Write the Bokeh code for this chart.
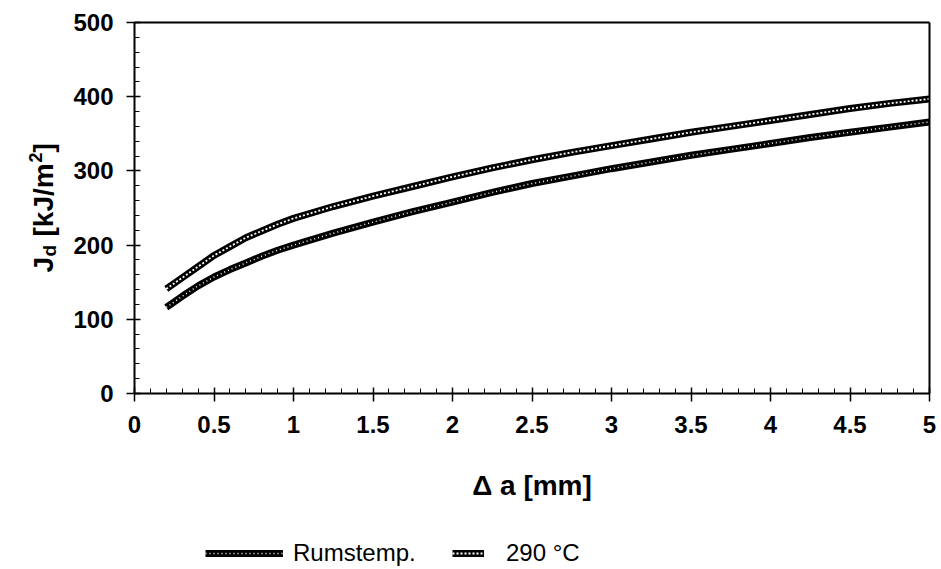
from bokeh.plotting import figure
from bokeh.models import (Legend, LegendItem, Label, Range1d, FixedTicker,
                          CustomJSTickFormatter, LinearAxis)
from bokeh.embed import file_html
from bokeh.resources import INLINE
import math

# Data
da = [0.2, 0.3, 0.4, 0.5, 0.6, 0.7, 0.8, 0.9, 1.0, 1.25, 1.5, 1.75, 2.0, 2.25, 2.5,
      2.75, 3.0, 3.25, 3.5, 3.75, 4.0, 4.25, 4.5, 4.75, 5.0]
j_rum = [116, 131, 145, 157, 167, 176, 185, 193, 200, 216, 231, 245, 258, 271, 283,
         293, 303, 312, 321, 329, 337, 345, 352, 359, 366]
j_290 = [141, 156, 171, 186, 198, 210, 219, 228, 236, 252, 266, 279, 292, 304, 315,
         325, 334, 343, 352, 360, 368, 376, 384, 391, 397]
x_ticks = [0, 0.5, 1, 1.5, 2, 2.5, 3, 3.5, 4, 4.5, 5]
y_ticks = [0, 100, 200, 300, 400, 500]
labels = ["Rumstemp.", "290 °C"]
X_MIN, X_MAX = 0, 5
Y_MIN, Y_MAX = 0, 500

FONT = "Liberation Sans"

# layout (pixels): plot box from x=134..929, y=22..393 in a 941x569 canvas
W, H = 941, 569
BOX_L, BOX_R, BOX_T, BOX_B = 134, 929, 22, 393
xs = (X_MAX - X_MIN) / (BOX_R - BOX_L)
ys = (Y_MAX - Y_MIN) / (BOX_B - BOX_T)
x_range = Range1d(X_MIN - BOX_L * xs, X_MAX + (W - BOX_R) * xs)
y_range = Range1d(Y_MIN - (H - BOX_B) * ys, Y_MAX + BOX_T * ys)

p = figure(width=W, height=H, output_backend="svg", toolbar_location=None,
           x_range=x_range, y_range=y_range,
           min_border=0, x_axis_location=None, y_axis_location=None)
p.background_fill_color = "white"
p.border_fill_color = "white"
p.outline_line_color = None
p.grid.visible = False

xaxis = LinearAxis(fixed_location=Y_MIN, bounds=(X_MIN, X_MAX))
yaxis = LinearAxis(fixed_location=X_MIN, bounds=(Y_MIN, Y_MAX))
p.add_layout(xaxis, "below")
p.add_layout(yaxis, "left")

for ax in (xaxis, yaxis):
    ax.axis_line_width = 2
    ax.axis_line_color = "black"
    ax.major_tick_line_width = 1.5
    ax.minor_tick_line_width = 1
    ax.major_tick_line_color = "black"
    ax.minor_tick_line_color = "black"
    ax.major_tick_out = 8
    ax.major_tick_in = 6
    ax.minor_tick_out = 0
    ax.minor_tick_in = 5
    ax.major_label_text_font = FONT
    ax.major_label_text_font_style = "bold"
    ax.major_label_text_font_size = "24px"
    ax.major_label_text_color = "black"

xaxis.ticker = FixedTicker(ticks=x_ticks, minor_ticks=[i / 10 for i in range(51)])
yaxis.ticker = FixedTicker(ticks=y_ticks, minor_ticks=list(range(0, 501, 20)))
xaxis.major_label_standoff = 14
yaxis.major_label_standoff = 13
xaxis.formatter = CustomJSTickFormatter(code="return tick.toString();")

xaxis.axis_label = "Δ a [mm]"
xaxis.axis_label_text_font = FONT
xaxis.axis_label_text_font_style = "bold"
xaxis.axis_label_text_font_size = "28px"
xaxis.axis_label_text_color = "black"
xaxis.axis_label_standoff = 34

# top and right border lines of the plot box
for loc, side, bnds in ((Y_MAX, "above", (X_MIN, X_MAX)), (X_MAX, "right", (Y_MIN, Y_MAX))):
    b = LinearAxis(fixed_location=loc, bounds=bnds, ticker=FixedTicker(ticks=[]))
    b.axis_line_width = 2
    b.axis_line_color = "black"
    b.major_tick_in = 0
    b.major_tick_out = 0
    b.minor_tick_in = 0
    b.minor_tick_out = 0
    p.add_layout(b, side)

# y axis label with subscript / superscript (screen units from bottom-left)
def ylab(x, y, t, size):
    p.add_layout(Label(x=x, y=y, x_units="screen", y_units="screen", text=t,
                       angle=math.pi / 2, text_font=FONT,
                       text_font_style="bold", text_font_size=size, text_color="black",
                       text_align="left", text_baseline="middle"))

yb = H - 272
ylab(43, yb, "J", "28px")
ylab(49, yb + 16, "d", "19px")
ylab(43, yb + 36, "[kJ/m", "28px")
ylab(35, yb + 110, "2", "18px")
ylab(43, yb + 120, "]", "28px")

# series: thick black line with white dotted core
r1a = p.line(da, j_rum, line_color="black", line_width=7)
r1b = p.line(da, j_rum, line_color="white", line_width=1.5, line_dash="1 3")
r2a = p.line(da, j_290, line_color="black", line_width=7)
r2b = p.line(da, j_290, line_color="white", line_width=1.8, line_dash="2 2")

def make_legend(label, renderers, x, glyph_w, standoff):
    lg = Legend(items=[LegendItem(label=label, renderers=renderers)],
                orientation="horizontal", location=(x, 2))
    lg.label_text_font = FONT
    lg.label_text_font_size = "24px"
    lg.label_text_color = "black"
    lg.border_line_color = None
    lg.background_fill_alpha = 0
    lg.glyph_width = glyph_w
    lg.glyph_height = 10
    lg.label_standoff = standoff
    lg.margin = 0
    lg.padding = 0
    p.add_layout(lg, "center")

make_legend(labels[0], [r1a, r1b], 205, 78, 10)
make_legend(labels[1], [r2a, r2b], 452, 32, 22)

open("out.html", "w").write(file_html(p, INLINE))
